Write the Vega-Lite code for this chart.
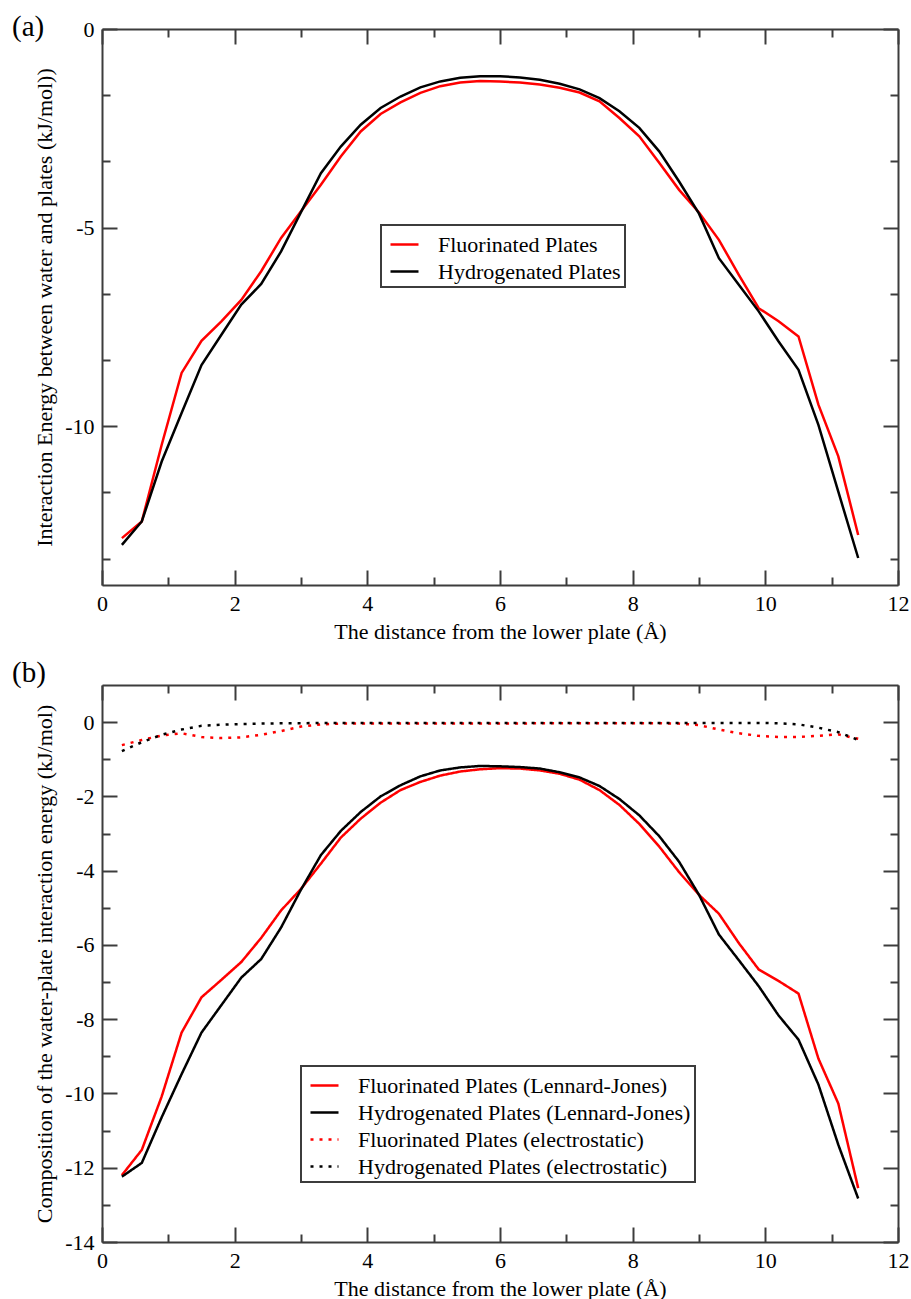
{
  "$schema": "https://vega.github.io/schema/vega-lite/v6.json",
  "padding": {"left": 12, "top": 13, "right": 5, "bottom": 0},
  "background": "white",
  "spacing": 17,
  "resolve": {"scale": {"color": "independent", "strokeDash": "independent"}, "legend": {"color": "independent", "strokeDash": "independent"}},
  "config": {
    "font": "Liberation Serif",
    "view": {"stroke": null},
    "axis": {
      "grid": false,
      "domainColor": "#3c3c3c",
      "domainWidth": 2,
      "tickColor": "#3c3c3c",
      "tickWidth": 2,
      "labelFont": "Liberation Serif",
      "labelFontSize": 22,
      "labelColor": "#000000",
      "titleFont": "Liberation Serif",
      "titleFontSize": 22,
      "titleFontWeight": "normal",
      "titleColor": "#000000",
      "labelFlush": false,
      "labelOverlap": false
    },
    "legend": {
      "orient": "none",
      "strokeColor": "#3c3c3c",
      "fillColor": "white",
      "padding": 4,
      "symbolOffset": 4,
      "symbolType": "stroke",
      "symbolSize": 784,
      "symbolStrokeWidth": 2.5,
      "labelFont": "Liberation Serif",
      "labelFontSize": 22,
      "labelColor": "#000000",
      "labelOffset": 18,
      "labelLimit": 600
    },
    "title": {
      "font": "Liberation Serif",
      "fontSize": 29,
      "fontWeight": "normal",
      "color": "#000000",
      "anchor": "start",
      "frame": "group"
    }
  },
  "datasets": {
    "a": [
      {"x":0.3,"y":-12.82,"s":"Fluorinated Plates"},{"x":0.6,"y":-12.40,"s":"Fluorinated Plates"},{"x":0.9,"y":-10.47,"s":"Fluorinated Plates"},{"x":1.2,"y":-8.66,"s":"Fluorinated Plates"},{"x":1.5,"y":-7.85,"s":"Fluorinated Plates"},{"x":1.8,"y":-7.36,"s":"Fluorinated Plates"},{"x":2.1,"y":-6.82,"s":"Fluorinated Plates"},{"x":2.4,"y":-6.10,"s":"Fluorinated Plates"},{"x":2.7,"y":-5.26,"s":"Fluorinated Plates"},{"x":3.0,"y":-4.59,"s":"Fluorinated Plates"},{"x":3.3,"y":-3.92,"s":"Fluorinated Plates"},{"x":3.6,"y":-3.21,"s":"Fluorinated Plates"},{"x":3.9,"y":-2.58,"s":"Fluorinated Plates"},{"x":4.2,"y":-2.14,"s":"Fluorinated Plates"},{"x":4.5,"y":-1.85,"s":"Fluorinated Plates"},{"x":4.8,"y":-1.61,"s":"Fluorinated Plates"},{"x":5.1,"y":-1.44,"s":"Fluorinated Plates"},{"x":5.4,"y":-1.35,"s":"Fluorinated Plates"},{"x":5.7,"y":-1.31,"s":"Fluorinated Plates"},{"x":6.0,"y":-1.32,"s":"Fluorinated Plates"},{"x":6.3,"y":-1.35,"s":"Fluorinated Plates"},{"x":6.6,"y":-1.40,"s":"Fluorinated Plates"},{"x":6.9,"y":-1.48,"s":"Fluorinated Plates"},{"x":7.2,"y":-1.60,"s":"Fluorinated Plates"},{"x":7.5,"y":-1.82,"s":"Fluorinated Plates"},{"x":7.8,"y":-2.24,"s":"Fluorinated Plates"},{"x":8.1,"y":-2.70,"s":"Fluorinated Plates"},{"x":8.4,"y":-3.37,"s":"Fluorinated Plates"},{"x":8.7,"y":-4.05,"s":"Fluorinated Plates"},{"x":9.0,"y":-4.62,"s":"Fluorinated Plates"},{"x":9.3,"y":-5.31,"s":"Fluorinated Plates"},{"x":9.6,"y":-6.19,"s":"Fluorinated Plates"},{"x":9.9,"y":-7.03,"s":"Fluorinated Plates"},{"x":10.2,"y":-7.36,"s":"Fluorinated Plates"},{"x":10.5,"y":-7.74,"s":"Fluorinated Plates"},{"x":10.8,"y":-9.46,"s":"Fluorinated Plates"},{"x":11.1,"y":-10.76,"s":"Fluorinated Plates"},{"x":11.4,"y":-12.74,"s":"Fluorinated Plates"},
      {"x":0.3,"y":-12.99,"s":"Hydrogenated Plates"},{"x":0.6,"y":-12.40,"s":"Hydrogenated Plates"},{"x":0.9,"y":-10.89,"s":"Hydrogenated Plates"},{"x":1.2,"y":-9.67,"s":"Hydrogenated Plates"},{"x":1.5,"y":-8.46,"s":"Hydrogenated Plates"},{"x":1.8,"y":-7.70,"s":"Hydrogenated Plates"},{"x":2.1,"y":-6.94,"s":"Hydrogenated Plates"},{"x":2.4,"y":-6.42,"s":"Hydrogenated Plates"},{"x":2.7,"y":-5.60,"s":"Hydrogenated Plates"},{"x":3.0,"y":-4.61,"s":"Hydrogenated Plates"},{"x":3.3,"y":-3.63,"s":"Hydrogenated Plates"},{"x":3.6,"y":-2.96,"s":"Hydrogenated Plates"},{"x":3.9,"y":-2.41,"s":"Hydrogenated Plates"},{"x":4.2,"y":-1.99,"s":"Hydrogenated Plates"},{"x":4.5,"y":-1.70,"s":"Hydrogenated Plates"},{"x":4.8,"y":-1.47,"s":"Hydrogenated Plates"},{"x":5.1,"y":-1.32,"s":"Hydrogenated Plates"},{"x":5.4,"y":-1.23,"s":"Hydrogenated Plates"},{"x":5.7,"y":-1.19,"s":"Hydrogenated Plates"},{"x":6.0,"y":-1.19,"s":"Hydrogenated Plates"},{"x":6.3,"y":-1.22,"s":"Hydrogenated Plates"},{"x":6.6,"y":-1.28,"s":"Hydrogenated Plates"},{"x":6.9,"y":-1.38,"s":"Hydrogenated Plates"},{"x":7.2,"y":-1.52,"s":"Hydrogenated Plates"},{"x":7.5,"y":-1.74,"s":"Hydrogenated Plates"},{"x":7.8,"y":-2.07,"s":"Hydrogenated Plates"},{"x":8.1,"y":-2.49,"s":"Hydrogenated Plates"},{"x":8.4,"y":-3.08,"s":"Hydrogenated Plates"},{"x":8.7,"y":-3.84,"s":"Hydrogenated Plates"},{"x":9.0,"y":-4.65,"s":"Hydrogenated Plates"},{"x":9.3,"y":-5.77,"s":"Hydrogenated Plates"},{"x":9.6,"y":-6.44,"s":"Hydrogenated Plates"},{"x":9.9,"y":-7.11,"s":"Hydrogenated Plates"},{"x":10.2,"y":-7.87,"s":"Hydrogenated Plates"},{"x":10.5,"y":-8.58,"s":"Hydrogenated Plates"},{"x":10.8,"y":-9.97,"s":"Hydrogenated Plates"},{"x":11.1,"y":-11.65,"s":"Hydrogenated Plates"},{"x":11.4,"y":-13.32,"s":"Hydrogenated Plates"}
    ],
    "b": [
      {"x":0.3,"y":-12.20,"s":"Fluorinated Plates (Lennard-Jones)"},{"x":0.6,"y":-11.52,"s":"Fluorinated Plates (Lennard-Jones)"},{"x":0.9,"y":-10.08,"s":"Fluorinated Plates (Lennard-Jones)"},{"x":1.2,"y":-8.36,"s":"Fluorinated Plates (Lennard-Jones)"},{"x":1.5,"y":-7.41,"s":"Fluorinated Plates (Lennard-Jones)"},{"x":1.8,"y":-6.94,"s":"Fluorinated Plates (Lennard-Jones)"},{"x":2.1,"y":-6.46,"s":"Fluorinated Plates (Lennard-Jones)"},{"x":2.4,"y":-5.81,"s":"Fluorinated Plates (Lennard-Jones)"},{"x":2.7,"y":-5.07,"s":"Fluorinated Plates (Lennard-Jones)"},{"x":3.0,"y":-4.49,"s":"Fluorinated Plates (Lennard-Jones)"},{"x":3.3,"y":-3.81,"s":"Fluorinated Plates (Lennard-Jones)"},{"x":3.6,"y":-3.11,"s":"Fluorinated Plates (Lennard-Jones)"},{"x":3.9,"y":-2.60,"s":"Fluorinated Plates (Lennard-Jones)"},{"x":4.2,"y":-2.17,"s":"Fluorinated Plates (Lennard-Jones)"},{"x":4.5,"y":-1.83,"s":"Fluorinated Plates (Lennard-Jones)"},{"x":4.8,"y":-1.61,"s":"Fluorinated Plates (Lennard-Jones)"},{"x":5.1,"y":-1.44,"s":"Fluorinated Plates (Lennard-Jones)"},{"x":5.4,"y":-1.33,"s":"Fluorinated Plates (Lennard-Jones)"},{"x":5.7,"y":-1.27,"s":"Fluorinated Plates (Lennard-Jones)"},{"x":6.0,"y":-1.24,"s":"Fluorinated Plates (Lennard-Jones)"},{"x":6.3,"y":-1.25,"s":"Fluorinated Plates (Lennard-Jones)"},{"x":6.6,"y":-1.30,"s":"Fluorinated Plates (Lennard-Jones)"},{"x":6.9,"y":-1.39,"s":"Fluorinated Plates (Lennard-Jones)"},{"x":7.2,"y":-1.55,"s":"Fluorinated Plates (Lennard-Jones)"},{"x":7.5,"y":-1.83,"s":"Fluorinated Plates (Lennard-Jones)"},{"x":7.8,"y":-2.23,"s":"Fluorinated Plates (Lennard-Jones)"},{"x":8.1,"y":-2.74,"s":"Fluorinated Plates (Lennard-Jones)"},{"x":8.4,"y":-3.35,"s":"Fluorinated Plates (Lennard-Jones)"},{"x":8.7,"y":-4.04,"s":"Fluorinated Plates (Lennard-Jones)"},{"x":9.0,"y":-4.65,"s":"Fluorinated Plates (Lennard-Jones)"},{"x":9.3,"y":-5.16,"s":"Fluorinated Plates (Lennard-Jones)"},{"x":9.6,"y":-5.95,"s":"Fluorinated Plates (Lennard-Jones)"},{"x":9.9,"y":-6.66,"s":"Fluorinated Plates (Lennard-Jones)"},{"x":10.2,"y":-6.97,"s":"Fluorinated Plates (Lennard-Jones)"},{"x":10.5,"y":-7.31,"s":"Fluorinated Plates (Lennard-Jones)"},{"x":10.8,"y":-9.06,"s":"Fluorinated Plates (Lennard-Jones)"},{"x":11.1,"y":-10.27,"s":"Fluorinated Plates (Lennard-Jones)"},{"x":11.4,"y":-12.55,"s":"Fluorinated Plates (Lennard-Jones)"},
      {"x":0.3,"y":-12.24,"s":"Hydrogenated Plates (Lennard-Jones)"},{"x":0.6,"y":-11.87,"s":"Hydrogenated Plates (Lennard-Jones)"},{"x":0.9,"y":-10.64,"s":"Hydrogenated Plates (Lennard-Jones)"},{"x":1.2,"y":-9.48,"s":"Hydrogenated Plates (Lennard-Jones)"},{"x":1.5,"y":-8.36,"s":"Hydrogenated Plates (Lennard-Jones)"},{"x":1.8,"y":-7.62,"s":"Hydrogenated Plates (Lennard-Jones)"},{"x":2.1,"y":-6.88,"s":"Hydrogenated Plates (Lennard-Jones)"},{"x":2.4,"y":-6.38,"s":"Hydrogenated Plates (Lennard-Jones)"},{"x":2.7,"y":-5.53,"s":"Hydrogenated Plates (Lennard-Jones)"},{"x":3.0,"y":-4.51,"s":"Hydrogenated Plates (Lennard-Jones)"},{"x":3.3,"y":-3.58,"s":"Hydrogenated Plates (Lennard-Jones)"},{"x":3.6,"y":-2.93,"s":"Hydrogenated Plates (Lennard-Jones)"},{"x":3.9,"y":-2.42,"s":"Hydrogenated Plates (Lennard-Jones)"},{"x":4.2,"y":-2.00,"s":"Hydrogenated Plates (Lennard-Jones)"},{"x":4.5,"y":-1.70,"s":"Hydrogenated Plates (Lennard-Jones)"},{"x":4.8,"y":-1.46,"s":"Hydrogenated Plates (Lennard-Jones)"},{"x":5.1,"y":-1.30,"s":"Hydrogenated Plates (Lennard-Jones)"},{"x":5.4,"y":-1.22,"s":"Hydrogenated Plates (Lennard-Jones)"},{"x":5.7,"y":-1.18,"s":"Hydrogenated Plates (Lennard-Jones)"},{"x":6.0,"y":-1.19,"s":"Hydrogenated Plates (Lennard-Jones)"},{"x":6.3,"y":-1.21,"s":"Hydrogenated Plates (Lennard-Jones)"},{"x":6.6,"y":-1.25,"s":"Hydrogenated Plates (Lennard-Jones)"},{"x":6.9,"y":-1.35,"s":"Hydrogenated Plates (Lennard-Jones)"},{"x":7.2,"y":-1.49,"s":"Hydrogenated Plates (Lennard-Jones)"},{"x":7.5,"y":-1.72,"s":"Hydrogenated Plates (Lennard-Jones)"},{"x":7.8,"y":-2.07,"s":"Hydrogenated Plates (Lennard-Jones)"},{"x":8.1,"y":-2.51,"s":"Hydrogenated Plates (Lennard-Jones)"},{"x":8.4,"y":-3.07,"s":"Hydrogenated Plates (Lennard-Jones)"},{"x":8.7,"y":-3.76,"s":"Hydrogenated Plates (Lennard-Jones)"},{"x":9.0,"y":-4.65,"s":"Hydrogenated Plates (Lennard-Jones)"},{"x":9.3,"y":-5.72,"s":"Hydrogenated Plates (Lennard-Jones)"},{"x":9.6,"y":-6.41,"s":"Hydrogenated Plates (Lennard-Jones)"},{"x":9.9,"y":-7.11,"s":"Hydrogenated Plates (Lennard-Jones)"},{"x":10.2,"y":-7.90,"s":"Hydrogenated Plates (Lennard-Jones)"},{"x":10.5,"y":-8.55,"s":"Hydrogenated Plates (Lennard-Jones)"},{"x":10.8,"y":-9.76,"s":"Hydrogenated Plates (Lennard-Jones)"},{"x":11.1,"y":-11.38,"s":"Hydrogenated Plates (Lennard-Jones)"},{"x":11.4,"y":-12.83,"s":"Hydrogenated Plates (Lennard-Jones)"},
      {"x":0.3,"y":-0.62,"s":"Fluorinated Plates (electrostatic)"},{"x":0.6,"y":-0.48,"s":"Fluorinated Plates (electrostatic)"},{"x":0.9,"y":-0.36,"s":"Fluorinated Plates (electrostatic)"},{"x":1.2,"y":-0.30,"s":"Fluorinated Plates (electrostatic)"},{"x":1.5,"y":-0.40,"s":"Fluorinated Plates (electrostatic)"},{"x":1.8,"y":-0.43,"s":"Fluorinated Plates (electrostatic)"},{"x":2.1,"y":-0.41,"s":"Fluorinated Plates (electrostatic)"},{"x":2.4,"y":-0.34,"s":"Fluorinated Plates (electrostatic)"},{"x":2.7,"y":-0.24,"s":"Fluorinated Plates (electrostatic)"},{"x":3.0,"y":-0.12,"s":"Fluorinated Plates (electrostatic)"},{"x":3.3,"y":-0.06,"s":"Fluorinated Plates (electrostatic)"},{"x":3.6,"y":-0.04,"s":"Fluorinated Plates (electrostatic)"},{"x":3.9,"y":-0.04,"s":"Fluorinated Plates (electrostatic)"},{"x":4.2,"y":-0.04,"s":"Fluorinated Plates (electrostatic)"},{"x":4.5,"y":-0.04,"s":"Fluorinated Plates (electrostatic)"},{"x":4.8,"y":-0.04,"s":"Fluorinated Plates (electrostatic)"},{"x":5.1,"y":-0.04,"s":"Fluorinated Plates (electrostatic)"},{"x":5.4,"y":-0.04,"s":"Fluorinated Plates (electrostatic)"},{"x":5.7,"y":-0.04,"s":"Fluorinated Plates (electrostatic)"},{"x":6.0,"y":-0.04,"s":"Fluorinated Plates (electrostatic)"},{"x":6.3,"y":-0.04,"s":"Fluorinated Plates (electrostatic)"},{"x":6.6,"y":-0.03,"s":"Fluorinated Plates (electrostatic)"},{"x":6.9,"y":-0.03,"s":"Fluorinated Plates (electrostatic)"},{"x":7.2,"y":-0.03,"s":"Fluorinated Plates (electrostatic)"},{"x":7.5,"y":-0.03,"s":"Fluorinated Plates (electrostatic)"},{"x":7.8,"y":-0.03,"s":"Fluorinated Plates (electrostatic)"},{"x":8.1,"y":-0.03,"s":"Fluorinated Plates (electrostatic)"},{"x":8.4,"y":-0.03,"s":"Fluorinated Plates (electrostatic)"},{"x":8.7,"y":-0.04,"s":"Fluorinated Plates (electrostatic)"},{"x":9.0,"y":-0.08,"s":"Fluorinated Plates (electrostatic)"},{"x":9.3,"y":-0.20,"s":"Fluorinated Plates (electrostatic)"},{"x":9.6,"y":-0.30,"s":"Fluorinated Plates (electrostatic)"},{"x":9.9,"y":-0.37,"s":"Fluorinated Plates (electrostatic)"},{"x":10.2,"y":-0.40,"s":"Fluorinated Plates (electrostatic)"},{"x":10.5,"y":-0.40,"s":"Fluorinated Plates (electrostatic)"},{"x":10.8,"y":-0.37,"s":"Fluorinated Plates (electrostatic)"},{"x":11.1,"y":-0.33,"s":"Fluorinated Plates (electrostatic)"},{"x":11.4,"y":-0.45,"s":"Fluorinated Plates (electrostatic)"},
      {"x":0.3,"y":-0.78,"s":"Hydrogenated Plates (electrostatic)"},{"x":0.6,"y":-0.54,"s":"Hydrogenated Plates (electrostatic)"},{"x":0.9,"y":-0.34,"s":"Hydrogenated Plates (electrostatic)"},{"x":1.2,"y":-0.20,"s":"Hydrogenated Plates (electrostatic)"},{"x":1.5,"y":-0.10,"s":"Hydrogenated Plates (electrostatic)"},{"x":1.8,"y":-0.07,"s":"Hydrogenated Plates (electrostatic)"},{"x":2.1,"y":-0.05,"s":"Hydrogenated Plates (electrostatic)"},{"x":2.4,"y":-0.04,"s":"Hydrogenated Plates (electrostatic)"},{"x":2.7,"y":-0.03,"s":"Hydrogenated Plates (electrostatic)"},{"x":3.0,"y":-0.03,"s":"Hydrogenated Plates (electrostatic)"},{"x":3.3,"y":-0.02,"s":"Hydrogenated Plates (electrostatic)"},{"x":3.6,"y":-0.02,"s":"Hydrogenated Plates (electrostatic)"},{"x":3.9,"y":-0.02,"s":"Hydrogenated Plates (electrostatic)"},{"x":4.2,"y":-0.02,"s":"Hydrogenated Plates (electrostatic)"},{"x":4.5,"y":-0.02,"s":"Hydrogenated Plates (electrostatic)"},{"x":4.8,"y":-0.02,"s":"Hydrogenated Plates (electrostatic)"},{"x":5.1,"y":-0.02,"s":"Hydrogenated Plates (electrostatic)"},{"x":5.4,"y":-0.02,"s":"Hydrogenated Plates (electrostatic)"},{"x":5.7,"y":-0.02,"s":"Hydrogenated Plates (electrostatic)"},{"x":6.0,"y":-0.02,"s":"Hydrogenated Plates (electrostatic)"},{"x":6.3,"y":-0.02,"s":"Hydrogenated Plates (electrostatic)"},{"x":6.6,"y":-0.02,"s":"Hydrogenated Plates (electrostatic)"},{"x":6.9,"y":-0.02,"s":"Hydrogenated Plates (electrostatic)"},{"x":7.2,"y":-0.02,"s":"Hydrogenated Plates (electrostatic)"},{"x":7.5,"y":-0.02,"s":"Hydrogenated Plates (electrostatic)"},{"x":7.8,"y":-0.02,"s":"Hydrogenated Plates (electrostatic)"},{"x":8.1,"y":-0.02,"s":"Hydrogenated Plates (electrostatic)"},{"x":8.4,"y":-0.02,"s":"Hydrogenated Plates (electrostatic)"},{"x":8.7,"y":-0.02,"s":"Hydrogenated Plates (electrostatic)"},{"x":9.0,"y":-0.02,"s":"Hydrogenated Plates (electrostatic)"},{"x":9.3,"y":-0.02,"s":"Hydrogenated Plates (electrostatic)"},{"x":9.6,"y":-0.02,"s":"Hydrogenated Plates (electrostatic)"},{"x":9.9,"y":-0.02,"s":"Hydrogenated Plates (electrostatic)"},{"x":10.2,"y":-0.03,"s":"Hydrogenated Plates (electrostatic)"},{"x":10.5,"y":-0.06,"s":"Hydrogenated Plates (electrostatic)"},{"x":10.8,"y":-0.15,"s":"Hydrogenated Plates (electrostatic)"},{"x":11.1,"y":-0.27,"s":"Hydrogenated Plates (electrostatic)"},{"x":11.4,"y":-0.48,"s":"Hydrogenated Plates (electrostatic)"}
    ]
  },
  "vconcat": [
    {
      "width": 796,
      "height": 556,
      "title": {"text": "(a)", "dx": -90, "dy": 47, "offset": 0, "baseline": "alphabetic"},
      "data": {"name": "a"},
      "resolve": {"axis": {"x": "independent", "y": "independent"}},
      "layer": [
        {
          "mark": {"type": "line", "strokeWidth": 2.5},
          "encoding": {
            "x": {"field": "x", "type": "quantitative", "scale": {"domain": [0, 12], "nice": false, "zero": false},
              "axis": {"orient": "bottom", "values": [0, 2, 4, 6, 8, 10, 12], "tickSize": -15, "labelPadding": 23, "title": "The distance from the lower plate (Å)", "titlePadding": 7}},
            "y": {"field": "y", "type": "quantitative", "scale": {"domain": [-14, 0], "nice": false, "zero": false},
              "axis": {"orient": "left", "values": [0, -5, -10], "tickSize": -15, "labelPadding": 23, "labelExpr": "'' + datum.value", "title": "Interaction Energy between water and plates (kJ/mol))", "titlePadding": 8}},
            "color": {"field": "s", "type": "nominal", "scale": {"domain": ["Fluorinated Plates", "Hydrogenated Plates"], "range": ["#ff0000", "#000000"]},
              "legend": {"title": null, "orient": "none", "legendX": 279, "legendY": 196, "rowPadding": -2, "encode": {"legend": {"update": {"strokeWidth": {"value": 2}}}}}}
          }
        },
        {
          "mark": {"type": "line", "opacity": 0},
          "encoding": {
            "x": {"field": "x", "type": "quantitative", "axis": {"orient": "top", "values": [0, 2, 4, 6, 8, 10, 12], "tickSize": -15, "labels": false, "title": null}},
            "y": {"field": "y", "type": "quantitative", "axis": {"orient": "right", "values": [0, -5, -10], "tickSize": -15, "labels": false, "title": null}}
          }
        },
        {
          "mark": {"type": "line", "opacity": 0},
          "encoding": {
            "x": {"field": "x", "type": "quantitative", "axis": {"orient": "bottom", "values": [1, 3, 5, 7, 9, 11], "tickSize": -8, "labels": false, "domain": false, "title": null}},
            "y": {"field": "y", "type": "quantitative", "axis": {"orient": "left", "values": [-1.6667, -3.3333, -6.6667, -8.3333, -11.6667, -13.3333], "tickSize": -8, "labels": false, "domain": false, "title": null}}
          }
        },
        {
          "mark": {"type": "line", "opacity": 0},
          "encoding": {
            "x": {"field": "x", "type": "quantitative", "axis": {"orient": "top", "values": [1, 3, 5, 7, 9, 11], "tickSize": -8, "labels": false, "domain": false, "title": null}},
            "y": {"field": "y", "type": "quantitative", "axis": {"orient": "right", "values": [-1.6667, -3.3333, -6.6667, -8.3333, -11.6667, -13.3333], "tickSize": -8, "labels": false, "domain": false, "title": null}}
          }
        }
      ]
    },
    {
      "width": 796,
      "height": 557,
      "title": {"text": "(b)", "dx": -90, "dy": 27, "offset": 0, "baseline": "alphabetic"},
      "data": {"name": "b"},
      "resolve": {"axis": {"x": "independent", "y": "independent"}},
      "layer": [
        {
          "mark": {"type": "line", "strokeWidth": 2.5, "strokeCap": "butt"},
          "encoding": {
            "x": {"field": "x", "type": "quantitative", "scale": {"domain": [0, 12], "nice": false, "zero": false},
              "axis": {"orient": "bottom", "values": [0, 2, 4, 6, 8, 10, 12], "tickSize": -15, "labelPadding": 23, "title": "The distance from the lower plate (Å)", "titlePadding": 7}},
            "y": {"field": "y", "type": "quantitative", "scale": {"domain": [-14, 1], "nice": false, "zero": false},
              "axis": {"orient": "left", "values": [0, -2, -4, -6, -8, -10, -12, -14], "tickSize": -15, "labelPadding": 23, "labelExpr": "'' + datum.value", "title": "Composition of the water-plate interaction energy (kJ/mol)", "titlePadding": 8}},
            "color": {"field": "s", "type": "nominal", "scale": {"domain": ["Fluorinated Plates (Lennard-Jones)", "Hydrogenated Plates (Lennard-Jones)", "Fluorinated Plates (electrostatic)", "Hydrogenated Plates (electrostatic)"], "range": ["#ff0000", "#000000", "#ff0000", "#000000"]},
              "legend": {"title": null, "orient": "none", "legendX": 199, "legendY": 381, "rowPadding": 0, "encode": {"legend": {"update": {"strokeWidth": {"value": 2}}}}}},
            "strokeDash": {"field": "s", "type": "nominal", "scale": {"domain": ["Fluorinated Plates (Lennard-Jones)", "Hydrogenated Plates (Lennard-Jones)", "Fluorinated Plates (electrostatic)", "Hydrogenated Plates (electrostatic)"], "range": [[1, 0], [1, 0], [3, 6], [3, 6]]},
              "legend": {"title": null, "orient": "none", "legendX": 199, "legendY": 381, "rowPadding": 0, "encode": {"legend": {"update": {"strokeWidth": {"value": 2}}}}}}
          }
        },
        {
          "mark": {"type": "line", "opacity": 0},
          "encoding": {
            "x": {"field": "x", "type": "quantitative", "axis": {"orient": "top", "values": [0, 2, 4, 6, 8, 10, 12], "tickSize": -15, "labels": false, "title": null}},
            "y": {"field": "y", "type": "quantitative", "axis": {"orient": "right", "values": [0, -2, -4, -6, -8, -10, -12, -14], "tickSize": -15, "labels": false, "title": null}}
          }
        },
        {
          "mark": {"type": "line", "opacity": 0},
          "encoding": {
            "x": {"field": "x", "type": "quantitative", "axis": {"orient": "bottom", "values": [1, 3, 5, 7, 9, 11], "tickSize": -8, "labels": false, "domain": false, "title": null}},
            "y": {"field": "y", "type": "quantitative", "axis": {"orient": "left", "values": [-1, -3, -5, -7, -9, -11, -13], "tickSize": -8, "labels": false, "domain": false, "title": null}}
          }
        },
        {
          "mark": {"type": "line", "opacity": 0},
          "encoding": {
            "x": {"field": "x", "type": "quantitative", "axis": {"orient": "top", "values": [1, 3, 5, 7, 9, 11], "tickSize": -8, "labels": false, "domain": false, "title": null}},
            "y": {"field": "y", "type": "quantitative", "axis": {"orient": "right", "values": [-1, -3, -5, -7, -9, -11, -13], "tickSize": -8, "labels": false, "domain": false, "title": null}}
          }
        }
      ]
    }
  ]
}
